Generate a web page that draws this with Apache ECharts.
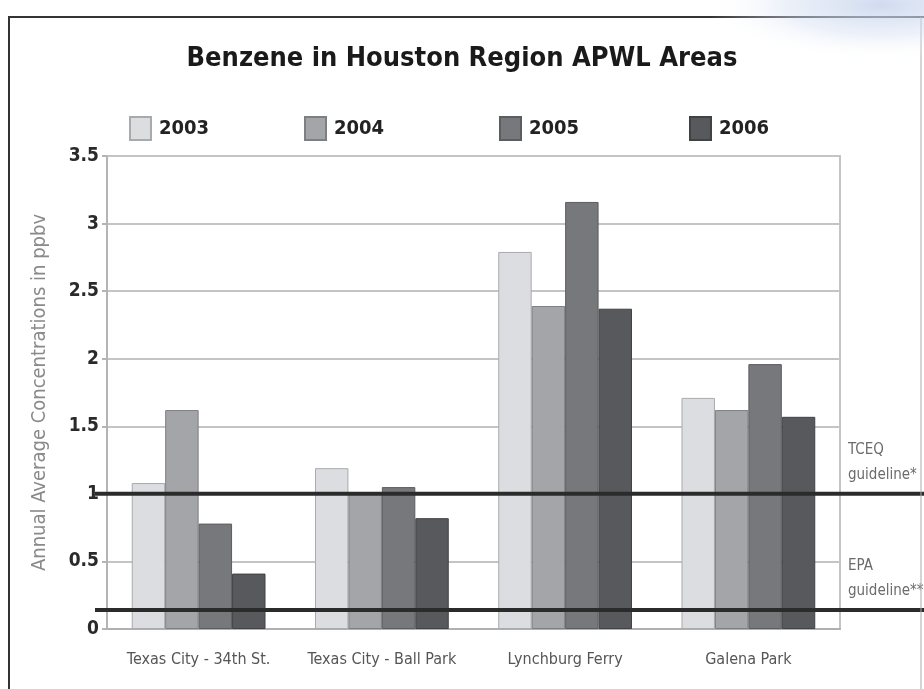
<!DOCTYPE html>
<html><head><meta charset="utf-8">
<script src="https://cdn.jsdelivr.net/npm/echarts@6/dist/echarts.min.js"></script>
<style>html,body{margin:0;padding:0;background:#fff}#c{width:924px;height:689px}</style>
</head><body><div id="c"></div>
<script>
const titleText = 'Benzene in Houston Region APWL Areas';
const yAxisName = 'Annual Average Concentrations in ppbv';
const categories = ['Texas City - 34th St.', 'Texas City - Ball Park', 'Lynchburg Ferry', 'Galena Park'];
const years = ['2003', '2004', '2005', '2006'];
const values2003 = [1.08, 1.19, 2.79, 1.71];
const values2004 = [1.62, 1.00, 2.39, 1.62];
const values2005 = [0.78, 1.05, 3.16, 1.96];
const values2006 = [0.41, 0.82, 2.37, 1.57];
const yTickLabels = ['0', '0.5', '1', '1.5', '2', '2.5', '3', '3.5'];
const guidelineValues = [1, 0.14];
const guidelineLabels = ['TCEQ\nguideline*', 'EPA\nguideline**'];

const seriesValues = [values2003, values2004, values2005, values2006];
const colors = ['#dcdde0', '#a4a5a8', '#77787b', '#58595c'];
const borders = ['#a9aaad', '#7e7f82', '#5c5d60', '#414244'];
const FN = '"DejaVu Sans Condensed", "Liberation Sans Narrow", sans-serif';

const chart = echarts.init(document.getElementById('c'));
const option = {
  animation: false,
  backgroundColor: '#fff',
  title: {
    text: titleText, left: 'center', top: 40,
    textStyle: { fontFamily: FN, fontWeight: 'bold', fontSize: 27, color: '#1a1a1a' }
  },
  legend: years.map((y, i) => ({
    data: [y], left: [124, 299, 494, 684][i], top: 111,
    icon: 'rect', itemWidth: 21, itemHeight: 23,
    textStyle: { fontFamily: FN, fontWeight: 'bold', fontSize: 20, color: '#222', padding: [0, 0, 0, 3] }
  })),
  grid: { left: 107, right: 84, top: 156, bottom: 60, show: true, borderColor: '#c4c4c4', borderWidth: 2 },
  xAxis: {
    type: 'category', data: categories,
    axisLine: { lineStyle: { color: '#b0b0b0', width: 2 } },
    axisTick: { length: 6, lineStyle: { color: '#b0b0b0', width: 2 } },
    axisLabel: { interval: 0, fontFamily: FN, fontSize: 16, color: '#555', margin: 23 }
  },
  yAxis: {
    type: 'value', min: 0, max: 3.5, interval: 0.5,
    name: yAxisName, nameLocation: 'middle', nameGap: 57,
    nameTextStyle: { fontFamily: FN, fontSize: 20, color: '#8a8a8a' },
    axisLine: { show: true, lineStyle: { color: '#b4b4b4', width: 2 } },
    axisTick: { show: true, length: 5, lineStyle: { color: '#b4b4b4', width: 2 } },
    axisLabel: { fontFamily: FN, fontWeight: 'bold', fontSize: 19, color: '#2a2a2a', margin: 8,
      formatter: (v, i) => yTickLabels[i] },
    splitLine: { lineStyle: { color: '#c4c4c4', width: 2 } }
  },
  series: years.map((y, i) => ({
    name: y, type: 'bar', data: seriesValues[i],
    barGap: '0%', barCategoryGap: '27%',
    itemStyle: { color: colors[i], borderColor: borders[i], borderWidth: 1 }
  }))
};
chart.setOption(option);

const gfx = [
  { type: 'polyline', shape: { points: [[9, 689], [9, 17], [924, 17]] }, style: { stroke: '#333', lineWidth: 2, fill: null }, z: 150 },
  { type: 'line', shape: { x1: 921, y1: 17, x2: 921, y2: 689 }, style: { stroke: '#aaa', lineWidth: 1 }, z: 150 },
  { type: 'rect', shape: { x: 0, y: 0, width: 110, height: 100 }, x: 600, y: -40, scaleX: 3.2, scaleY: 1, z: 200, silent: true,
    style: { fill: { type: 'radial', x: 0.8, y: 0.45, r: 0.55,
      colorStops: [{ offset: 0, color: 'rgba(196,210,236,0.8)' }, { offset: 0.55, color: 'rgba(214,224,242,0.45)' }, { offset: 1, color: 'rgba(255,255,255,0)' }] } } }
];
guidelineValues.forEach((v, i) => {
  const y = chart.convertToPixel({ yAxisIndex: 0 }, v);
  gfx.push({ type: 'line', shape: { x1: 95, y1: y, x2: 924, y2: y }, style: { stroke: '#2b2b2b', lineWidth: 4 }, z: 100 });
  gfx.push({ type: 'text', x: 848, y: y - 6, z: 100,
    style: { text: guidelineLabels[i], fontFamily: FN, fontSize: 15, lineHeight: 25, fill: '#6b6b6b', verticalAlign: 'bottom', textVerticalAlign: 'bottom' } });
});
chart.setOption({ graphic: gfx });
</script></body></html>
